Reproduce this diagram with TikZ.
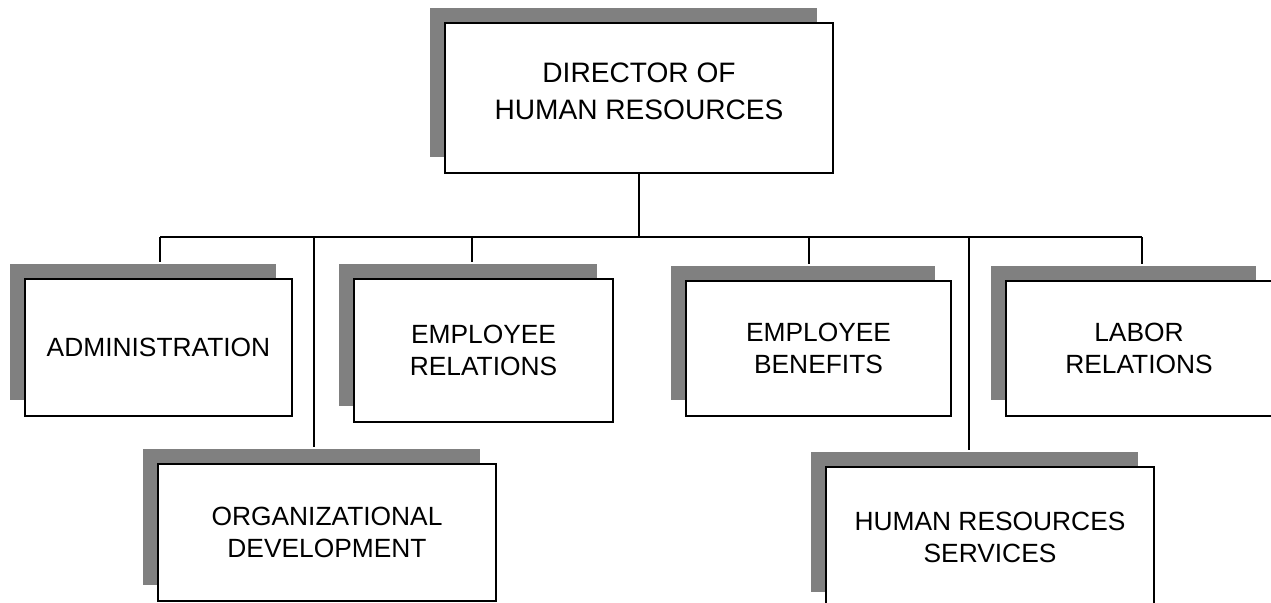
\documentclass[tikz,border=0pt]{standalone}
\usepackage{fontspec}
\setmainfont{Liberation Sans}
\usetikzlibrary{shadows,calc}

\begin{document}
\begin{tikzpicture}[x=0.02cm, y=-0.02cm]
			\tikzstyle{every node}+=[inner sep=0pt]
			\tikzstyle{deptbox}=[draw=black, line width=1.1pt, fill=white, align=center,
				font=\fontsize{15}{18.5}\selectfont,
				drop shadow={shadow xshift=-0.31cm, shadow yshift=0.31cm, fill=gray, opacity=1}]
			\tikzstyle{orgline}=[black, line width=0.8pt]
			\useasboundingbox (0,0) rectangle (1271,602);
			\clip (0,0) rectangle (1271,602);
			% director on top
			\node [deptbox, minimum width=7.76cm, minimum height=3cm] (director) at (639,98) {};
			\node [align=center, font=\fontsize{16}{21}\selectfont] (directortitle) at (639,91) {DIRECTOR OF\\HUMAN RESOURCES};
			% first row
			\node [deptbox, minimum width=5.34cm, minimum height=2.74cm] (admin) at (158.5,347.5) {ADMINISTRATION};
			\node [deptbox, minimum width=5.18cm, minimum height=2.86cm] (emprel) at (483.5,350.5) {EMPLOYEE\\RELATIONS};
			\node [deptbox, minimum width=5.3cm, minimum height=2.7cm] (empben) at (818.5,348.5) {EMPLOYEE\\BENEFITS};
			\node [deptbox, minimum width=5.32cm, minimum height=2.7cm] (labrel) at (1139,348.5) {LABOR\\RELATIONS};
			% second row
			\node [deptbox, minimum width=6.76cm, minimum height=2.74cm] (orgdev) at (327,532.5) {ORGANIZATIONAL\\DEVELOPMENT};
			\node [deptbox, minimum width=6.56cm, minimum height=2.82cm] (hrserv) at (990,537.5) {HUMAN RESOURCES\\SERVICES};
			% bus line
			\coordinate (busleft) at (160,237);
			\coordinate (busright) at (1142,237);
			\draw [orgline] (director.south) -- (director.south |- busleft);
			\draw [orgline] (busleft) -- (busright);
			\foreach \d/\x in {admin/160, emprel/472, empben/809, labrel/1142, orgdev/314, hrserv/969}
				\draw [orgline] (\x,0 |- busleft) -- ($(\x,0 |- \d.north)+(0,-16)$);
\end{tikzpicture}
\end{document}
